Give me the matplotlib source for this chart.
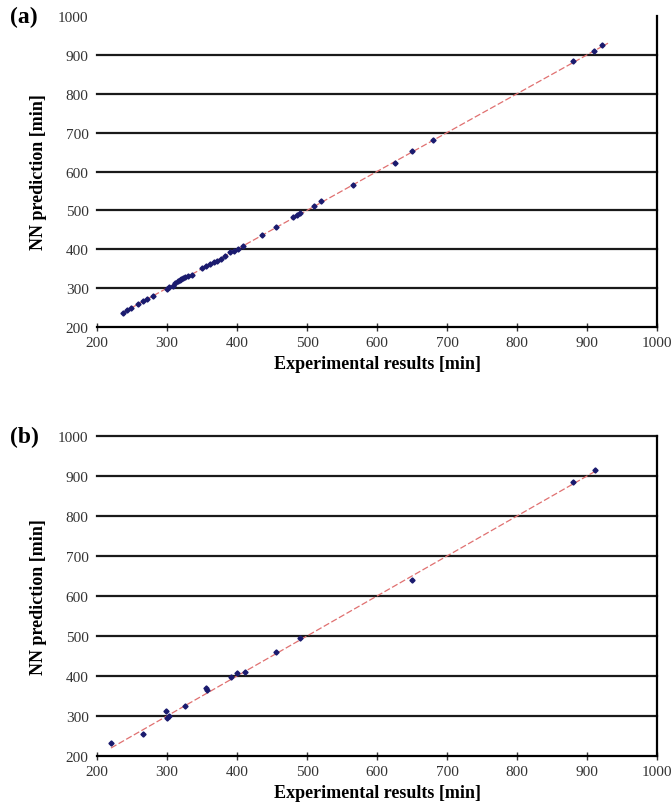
import matplotlib
matplotlib.use("Agg")
import matplotlib.pyplot as plt

# measured vs predicted times, training set (a)
exp_a = [237, 243, 248, 258, 265, 272, 280, 300, 303, 308, 312, 315, 318, 320, 323,
         326, 330, 335, 350, 356, 362, 367, 372, 377, 383, 390, 396, 402, 408, 435,
         455, 480, 485, 490, 510, 520, 565, 625, 650, 680, 880, 910, 922]
nn_a = [236, 244, 250, 258, 266, 272, 281, 298, 302, 306, 314, 318, 320, 324, 326,
        328, 331, 334, 351, 356, 361, 366, 371, 376, 382, 392, 396, 401, 408, 436,
        457, 483, 487, 492, 511, 523, 566, 622, 652, 681, 884, 911, 926]

# test set (b)
exp_b = [220, 265, 298, 300, 303, 325, 355, 357, 392, 400, 412, 455, 490, 650, 880, 912]
nn_b = [232, 256, 313, 296, 299, 325, 370, 366, 398, 408, 410, 459, 496, 640, 884, 916]

ticks = list(range(200, 1001, 100))

plt.rcParams['font.family'] = ['Liberation Serif', 'DejaVu Serif']

fig = plt.figure(figsize=(6.72, 8.03), dpi=100)
ax_a = fig.add_axes([97 / 672, 1 - 328 / 803, 560 / 672, 311 / 803])
ax_b = fig.add_axes([97 / 672, 1 - 757 / 803, 560 / 672, 320 / 803])


def setup(ax, xs, ys, line_end, tag, top_line):
    ax.set_xlim(200, 1000)
    ax.set_ylim(200, 1000)
    ax.set_xticks(ticks)
    ax.set_yticks(ticks)
    ax.tick_params(axis='both', labelsize=11, colors='#333333', labelcolor='#333333')
    ax.tick_params(axis='x', direction='inout', length=6, width=1)
    ax.tick_params(axis='y', length=0, pad=6)
    for s in ['left', 'top']:
        ax.spines[s].set_visible(False)
    ax.spines['right'].set_linewidth(1.6)
    ax.spines['bottom'].set_linewidth(1.6)
    gl = ticks[1:] if top_line else ticks[1:-1]
    for g in gl:
        ax.axhline(g, color='#1a1a1a', lw=1.6, zorder=1, clip_on=False)
    ax.plot([xs[0], line_end], [xs[0], line_end], color='#e07070', lw=0.9,
            ls=(0, (5, 2)), zorder=2)
    ax.plot(xs, ys, 'D', ms=2.6, color='#1a1a6e', zorder=3)
    ax.set_ylabel('NN prediction [min]', fontsize=13, fontweight='bold', labelpad=8)
    ax.set_xlabel('Experimental results [min]', fontsize=13, fontweight='bold', labelpad=4)
    ax.text(-0.155, 1.0, tag, transform=ax.transAxes, fontsize=17, fontweight='bold',
            ha='left', va='center')


setup(ax_a, exp_a, nn_a, 930, '(a)', False)
setup(ax_b, exp_b, nn_b, 912, '(b)', True)

fig.savefig('out.png', dpi=100)
